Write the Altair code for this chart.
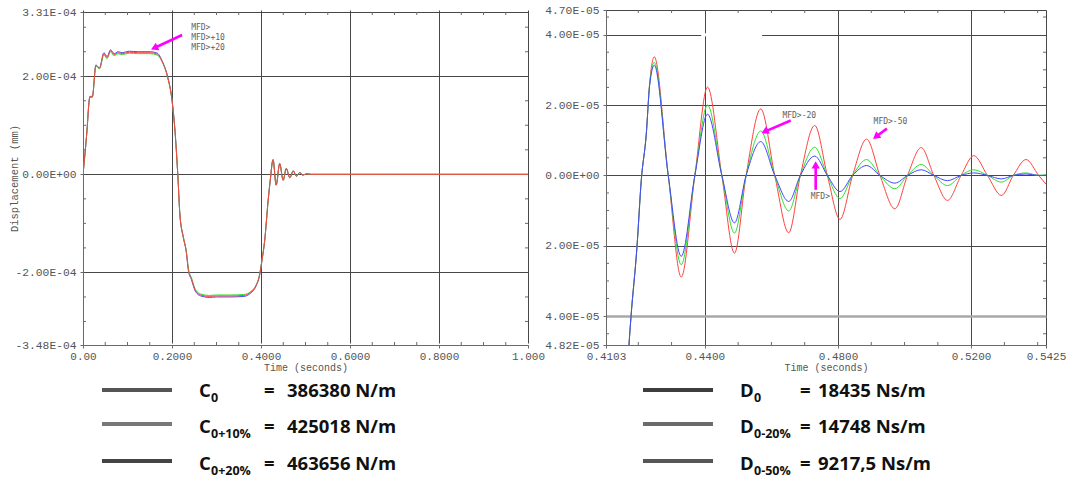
import altair as alt
import pandas as pd

# ---------------- data: left panel (stiffness variation) ----------------
t_left = [0.000, 0.009, 0.014, 0.0155, 0.021, 0.029, 0.037, 0.047, 0.054, 0.062,
          0.070, 0.079, 0.088, 0.104, 0.124, 0.151, 0.167, 0.1785, 0.190, 0.200,
          0.206, 0.2137, 0.2176, 0.2254, 0.2317, 0.2372, 0.2434, 0.2528, 0.2646, 0.284,
          0.300, 0.330, 0.3614, 0.377, 0.3888, 0.3966, 0.402, 0.4083, 0.4161, 0.4208,
          0.4271, 0.4341, 0.442, 0.4498, 0.4568, 0.4647, 0.4725, 0.4795, 0.4866, 0.4944,
          0.5022, 0.513, 0.600, 0.700, 0.800, 0.900, 1.000]
# displacement in units of 1e-4 mm
left_red = [0.00, 0.90, 1.51, 1.58, 1.58, 2.22, 2.16, 2.46, 2.38, 2.52,
            2.44, 2.48, 2.46, 2.49, 2.48, 2.48, 2.45, 2.29, 1.99, 1.51,
            0.97, -0.12, -0.80, -1.28, -1.55, -1.96, -2.12, -2.37, -2.46, -2.49,
            -2.48, -2.48, -2.47, -2.40, -2.27, -2.06, -1.76, -1.35, -0.53, -0.12,
            0.30, -0.22, 0.22, -0.12, 0.12, -0.07, 0.07, -0.04, 0.035, -0.015,
            0.01, 0.00, 0.00, 0.00, 0.00, 0.00, 0.00]
left_green = [0.00, 0.90, 1.51, 1.57, 1.57, 2.21, 2.15, 2.44, 2.36, 2.50,
              2.42, 2.46, 2.44, 2.47, 2.46, 2.46, 2.43, 2.28, 1.98, 1.51,
              0.97, -0.12, -0.80, -1.27, -1.54, -1.94, -2.10, -2.35, -2.44, -2.47,
              -2.46, -2.46, -2.45, -2.39, -2.26, -2.05, -1.76, -1.35, -0.53, -0.12,
              0.29, -0.21, 0.21, -0.12, 0.12, -0.07, 0.07, -0.04, 0.035, -0.015,
              0.01, 0.00, 0.00, 0.00, 0.00, 0.00, 0.00]
left_blue = [0.00, 0.90, 1.52, 1.59, 1.59, 2.23, 2.17, 2.48, 2.40, 2.54,
             2.46, 2.50, 2.48, 2.51, 2.50, 2.50, 2.47, 2.30, 2.00, 1.52,
             0.97, -0.12, -0.81, -1.29, -1.56, -1.98, -2.14, -2.39, -2.48, -2.51,
             -2.50, -2.50, -2.49, -2.42, -2.28, -2.07, -1.77, -1.35, -0.53, -0.12,
             0.30, -0.22, 0.22, -0.12, 0.12, -0.07, 0.07, -0.04, 0.035, -0.015,
             0.01, 0.00, 0.00, 0.00, 0.00, 0.00, 0.00]

# ---------------- data: right panel (damping variation, zoom) ----------------
t_right = [0.4172, 0.4178, 0.4196, 0.4209, 0.4224, 0.4234, 0.4248, 0.4290, 0.4329, 0.4370,
           0.4408, 0.4451, 0.4489, 0.4524, 0.4568, 0.4610, 0.4652, 0.4687, 0.4730, 0.4768,
           0.4806, 0.4844, 0.4886, 0.4926, 0.4971, 0.5009, 0.5050, 0.5088, 0.5129, 0.5170,
           0.5208, 0.5249, 0.5291, 0.5327, 0.5365, 0.5403, 0.5425]
# displacement in units of 1e-5 mm
right_red = [-4.82, -4.03, -2.04, -0.14, 1.17, 2.60, 3.37, 0.00, -2.89, 0.00,
             2.51, 0.00, -2.21, 0.00, 1.89, 0.00, -1.63, 0.00, 1.42, 0.00,
             -1.25, 0.00, 1.03, 0.00, -0.95, 0.00, 0.79, 0.00, -0.71, 0.00,
             0.56, 0.00, -0.57, 0.00, 0.45, 0.00, -0.25]
right_green = [-4.82, -4.03, -2.04, -0.14, 1.17, 2.57, 3.21, 0.00, -2.54, 0.00,
               2.00, 0.00, -1.64, 0.00, 1.26, 0.00, -1.01, 0.00, 0.80, 0.00,
               -0.66, 0.00, 0.45, 0.00, -0.38, 0.00, 0.31, 0.00, -0.29, 0.00,
               0.16, 0.00, -0.19, 0.00, 0.07, 0.00, 0.02]
right_blue = [-4.82, -4.03, -2.04, -0.14, 1.17, 2.55, 3.13, 0.00, -2.30, 0.00,
              1.74, 0.00, -1.35, 0.00, 0.96, 0.00, -0.74, 0.00, 0.55, 0.00,
              -0.46, 0.00, 0.28, 0.00, -0.22, 0.00, 0.16, 0.00, -0.15, 0.00,
              0.07, 0.00, -0.10, 0.00, 0.04, 0.00, 0.00]

# ---------------- axes: ticks and labels ----------------
left_x_ticks = [0.0, 0.2, 0.4, 0.6, 0.8, 1.0]
left_x_labels = ["0.00", "0.2000", "0.4000", "0.6000", "0.8000", "1.000"]
left_y_ticks = [-3.48e-4, -2.0e-4, 0.0, 2.0e-4, 3.31e-4]
left_y_labels = ["-3.48E-04", "-2.00E-04", "0.00E+00", "2.00E-04", "3.31E-04"]
left_x_minor = [0.05, 0.1, 0.15, 0.25, 0.3, 0.35, 0.45, 0.5, 0.55, 0.65, 0.7, 0.75, 0.85, 0.9, 0.95]
left_y_minor = [-3.0e-4, -2.5e-4, -1.5e-4, -1.0e-4, -0.5e-4, 0.5e-4, 1.0e-4, 1.5e-4, 2.5e-4, 3.0e-4]

right_x_ticks = [0.4103, 0.44, 0.48, 0.52, 0.5425]
right_x_labels = ["0.4103", "0.4400", "0.4800", "0.5200", "0.5425"]
right_y_ticks = [-4.82e-5, -4.0e-5, -2.0e-5, 0.0, 2.0e-5, 4.0e-5, 4.70e-5]
right_y_labels = ["4.82E-05", "4.00E-05", "2.00E-05", "0.00E+00", "2.00E-05", "4.00E-05", "4.70E-05"]
right_x_minor = [0.42, 0.43, 0.45, 0.46, 0.47, 0.49, 0.50, 0.51, 0.53, 0.54]
right_y_minor = [-4.5e-5, -3.5e-5, -3.0e-5, -2.5e-5, -1.5e-5, -1.0e-5, -0.5e-5, 0.5e-5,
                 1.0e-5, 1.5e-5, 2.5e-5, 3.0e-5, 3.5e-5, 4.5e-5]
# break in the upper 4.00E-05 grid line of the right panel
right_grid_gap_t = [0.4389, 0.4572]
right_grid_gap_v = 4.0e-5

# ---------------- annotations ----------------
left_notes = ["MFD>", "MFD>+10", "MFD>+20"]
left_notes_t = [0.243, 0.243, 0.243]
left_notes_v = [2.99e-4, 2.78e-4, 2.58e-4]
right_notes = ["MFD>-20", "MFD>-50", "MFD>"]
right_notes_t = [0.4633, 0.4907, 0.4718]
right_notes_v = [1.68e-5, 1.52e-5, -0.62e-5]

# arrows: start point, head point, head angle (deg, clockwise from up)
left_arrow_t = [(0.2227, 0.1602)]
left_arrow_v = [(2.84e-4, 2.576e-4)]
left_arrow_ang = [245]
right_arrow_t = [(0.4658, 0.4580), (0.4947, 0.4914), (0.4733, 0.4733)]
right_arrow_v = [(1.56e-5, 1.245e-5), (1.33e-5, 1.10e-5), (-0.41e-5, 0.30e-5)]
right_arrow_ang = [245, 232, 0]

# ---------------- legends ----------------
left_leg_sym = ["C", "C", "C"]
left_leg_sub = ["0", "0+10%", "0+20%"]
left_leg_val = ["386380 N/m", "425018 N/m", "463656 N/m"]
left_leg_col = ["#555555", "#787878", "#444444"]
right_leg_sym = ["D", "D", "D"]
right_leg_sub = ["0", "0-20%", "0-50%"]
right_leg_val = ["18435 Ns/m", "14748 Ns/m", "9217,5 Ns/m"]
right_leg_col = ["#3d3d3d", "#6b6b6b", "#565656"]

# ---------------- styling ----------------
MONO = "Liberation Mono"
ANNOT_FONT = "DejaVu Sans Mono"
LEG_FONT = "Open Sans"
GRID = "#474747"
FRAME = "#6a6a6a"
LABEL = "#555555"
MAGENTA = "#ff00ff"
COLORS = {"blue": "#4646ff", "green": "#2fe02f", "red": "#ff4040"}
H = 335


def lab_expr(vals, labs, tol):
    expr = "''"
    for v, l in reversed(list(zip(vals, labs))):
        expr = f"abs(datum.value - ({v!r})) < {tol} ? '{l}' : " + expr
    return expr


def build_panel(t, series, xdom, ydom, yrange, width,
                xt, xl, yt, yl, xminor, yminor,
                notes, notes_t, notes_v, arr_t, arr_v, arr_ang,
                leg_sym, leg_sub, leg_val, leg_col, leg_x,
                y_title, grid_cond=None, gap=None):
    xtol = (xdom[1] - xdom[0]) * 1e-6
    ytol = (ydom[1] - ydom[0]) * 1e-6
    xs = alt.Scale(domain=xdom, nice=False, zero=False)
    ys = alt.Scale(domain=ydom, range=yrange, nice=False, zero=False)
    xaxis = alt.Axis(values=xt, labelExpr=lab_expr(xt, xl, xtol), title="Time (seconds)",
                     grid=True, gridColor=GRID, gridWidth=1, domain=True, domainColor=FRAME,
                     tickColor=FRAME, tickSize=3, labelPadding=2, labelFont=MONO,
                     labelFontSize=11, labelColor=LABEL, labelFlush=False, labelOverlap=False,
                     titleFont=MONO, titleFontSize=10, titleFontWeight="normal",
                     titleColor=LABEL, titleY=17)
    ykw = dict(values=yt, labelExpr=lab_expr(yt, yl, ytol), grid=True,
               domain=True, domainColor=FRAME, tickColor=FRAME, tickSize=3, labelPadding=4,
               labelFont=MONO, labelFontSize=11.3, labelColor=LABEL, labelFlush=False,
               labelOverlap=False)
    if grid_cond is not None:
        ykw["gridColor"] = {"condition": {"test": grid_cond, "value": "#a8a8a8"}, "value": GRID}
        ykw["gridWidth"] = {"condition": {"test": grid_cond, "value": 2.5}, "value": 1}
    else:
        ykw["gridColor"] = GRID
        ykw["gridWidth"] = 1
    if y_title:
        ykw.update(title=y_title, titleFont=MONO, titleFontSize=10.5, titleFontWeight="normal",
                   titleColor=LABEL, titleX=-64, titleY=168)
    else:
        ykw["title"] = None
    yaxis = alt.Axis(**ykw)
    X = alt.X("t:Q", scale=xs, axis=xaxis)
    Y = alt.Y("v:Q", scale=ys, axis=yaxis)

    layers = []
    if gap is not None:
        gdf = pd.DataFrame({"t": [gap[0][0]], "t2": [gap[0][1]], "v": [gap[1]]})
        layers.append(alt.Chart(gdf).mark_rule(color="white", strokeWidth=3)
                      .encode(x=X, x2="t2:Q", y=Y))
    for name, (vals, unit) in series.items():
        df = pd.DataFrame({"t": t, "v": [v * unit for v in vals]})
        layers.append(alt.Chart(df).mark_line(interpolate="monotone", strokeWidth=1,
                                              color=COLORS[name], clip=True)
                      .encode(x=X, y=Y))

    ytop = yrange[1]
    dfx = pd.DataFrame({"t": xminor})
    layers.append(alt.Chart(dfx).mark_rule(color=FRAME, strokeWidth=1)
                  .encode(x=X, y=alt.value(ytop), y2=alt.value(ytop + 3)))
    layers.append(alt.Chart(dfx).mark_rule(color=FRAME, strokeWidth=1)
                  .encode(x=X, y=alt.value(H - 3), y2=alt.value(H)))
    dfy = pd.DataFrame({"v": yminor})
    layers.append(alt.Chart(dfy).mark_rule(color=FRAME, strokeWidth=1)
                  .encode(y=Y, x=alt.value(0), x2=alt.value(3)))
    layers.append(alt.Chart(dfy).mark_rule(color=FRAME, strokeWidth=1)
                  .encode(y=Y, x=alt.value(width - 3), x2=alt.value(width)))

    # annotation texts
    dfn = pd.DataFrame({"t": notes_t, "v": notes_v, "label": notes})
    layers.append(alt.Chart(dfn).mark_text(font=ANNOT_FONT, fontSize=8, color="#606060",
                                           align="left", baseline="middle")
                  .encode(x=X, y=Y, text="label:N"))
    # arrows
    rows = []
    heads = []
    for i, ((t0, t1), (v0, v1), a) in enumerate(zip(arr_t, arr_v, arr_ang)):
        rows.append({"id": i, "k": 0, "t": t0, "v": v0})
        rows.append({"id": i, "k": 1, "t": t1, "v": v1})
        heads.append({"t": t1, "v": v1, "ang": a})
    layers.append(alt.Chart(pd.DataFrame(rows)).mark_line(color=MAGENTA, strokeWidth=2.6)
                  .encode(x=X, y=Y, detail="id:N", order="k:Q"))
    layers.append(alt.Chart(pd.DataFrame(heads))
                  .mark_point(shape="triangle-up", filled=True, color=MAGENTA, opacity=1, size=70)
                  .encode(x=X, y=Y, angle=alt.Angle("ang:Q", scale=None)))

    # legend rows under the panel
    sw0, sw1, xs_sym, xs_sub, xs_eq, xs_val = leg_x
    line_y = [380, 414, 451]
    base_y = [387, 423, 460]
    for i in range(3):
        one = pd.DataFrame({"s": [leg_sym[i]], "b": [leg_sub[i]], "n": [leg_val[i]], "e": ["="]})
        layers.append(alt.Chart(one).mark_rule(color=leg_col[i], strokeWidth=4)
                      .encode(x=alt.value(sw0), x2=alt.value(sw1), y=alt.value(line_y[i])))
        common = dict(font=LEG_FONT, fontWeight="bold", color="#111111", align="left",
                      baseline="alphabetic")
        layers.append(alt.Chart(one).mark_text(fontSize=18.5, **common)
                      .encode(x=alt.value(xs_sym), y=alt.value(base_y[i]), text="s:N"))
        layers.append(alt.Chart(one).mark_text(fontSize=12.5, **common)
                      .encode(x=alt.value(xs_sub), y=alt.value(base_y[i] + 5), text="b:N"))
        layers.append(alt.Chart(one).mark_text(fontSize=18.5, **common)
                      .encode(x=alt.value(xs_eq), y=alt.value(base_y[i]), text="e:N"))
        layers.append(alt.Chart(one).mark_text(fontSize=18.5, **common)
                      .encode(x=alt.value(xs_val), y=alt.value(base_y[i]), text="n:N"))

    return alt.layer(*layers).properties(width=width, height=H)


left = build_panel(
    t_left,
    {"blue": (left_blue, 1e-4), "green": (left_green, 1e-4), "red": (left_red, 1e-4)},
    [0.0, 1.0], [-3.48e-4, 3.31e-4], [H, 2], 445,
    left_x_ticks, left_x_labels, left_y_ticks, left_y_labels, left_x_minor, left_y_minor,
    left_notes, left_notes_t, left_notes_v, left_arrow_t, left_arrow_v, left_arrow_ang,
    left_leg_sym, left_leg_sub, left_leg_val, left_leg_col,
    (19, 89, 116, 128, 181, 204),
    "Displacement (mm)")

right = build_panel(
    t_right,
    {"red": (right_red, 1e-5), "green": (right_green, 1e-5), "blue": (right_blue, 1e-5)},
    [0.4103, 0.5425], [-4.82e-5, 4.70e-5], [H, 0], 440,
    right_x_ticks, right_x_labels, right_y_ticks, right_y_labels, right_x_minor, right_y_minor,
    right_notes, right_notes_t, right_notes_v, right_arrow_t, right_arrow_v, right_arrow_ang,
    right_leg_sym, right_leg_sub, right_leg_val, right_leg_col,
    (37, 107, 134, 148, 194, 212),
    None, grid_cond="abs(datum.value + 4e-5) < 1e-10",
    gap=(right_grid_gap_t, right_grid_gap_v))

chart = (alt.hconcat(left, right, spacing=78, bounds="flush")
         .properties(padding={"left": 9, "top": 4, "right": 5, "bottom": 0},
                     background="white")
         .configure_view(strokeWidth=0))

chart.save("out.html", embed_options={"renderer": "svg", "actions": False})
